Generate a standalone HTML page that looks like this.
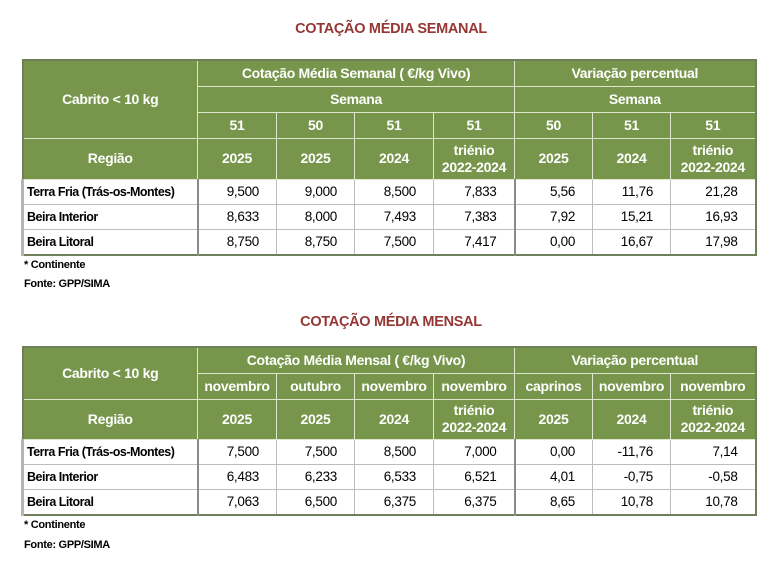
<!DOCTYPE html>
<html><head><meta charset="utf-8"><style>
body{margin:0;background:#fff;width:782px;height:571px;position:relative;font-family:"Liberation Sans",sans-serif;overflow:hidden}
.t{position:absolute;left:0;width:782px;text-align:center;color:#953735;font-weight:bold;font-size:14.5px;letter-spacing:-0.3px}
table{position:absolute;left:21px;border-collapse:collapse;table-layout:fixed;width:733px;border:2px solid #6e7f5a}
td{padding:0;font-size:13.5px;letter-spacing:-0.3px;color:#000;overflow:hidden;white-space:nowrap}
.h td{background:#77964b;color:#fff;font-weight:bold;text-align:center;border:1.5px solid #dfe8cf;font-size:14px;line-height:17px}
.d td{border:1px solid #bdbdbd;text-align:right;padding-right:17px;height:24px}
.d td:first-child{text-align:left;padding-left:3px;padding-right:0;font-weight:bold;font-size:12.5px;letter-spacing:-0.5px;border-left:3px solid #b5b5b5;border-right:2px solid #8a8a8a}
.d td.s{border-left:2px solid #8a8a8a}
.f{position:absolute;left:24px;font-size:11px;font-weight:bold;letter-spacing:-0.3px}
</style></head><body>
<div class="t" style="top:21px">COTAÇÃO MÉDIA SEMANAL</div>
<table style="top:59px">
<colgroup><col style="width:175px"><col style="width:79px"><col style="width:78px"><col style="width:79px"><col style="width:81px"><col style="width:78px"><col style="width:78px"><col style="width:85px"></colgroup>
<tr class="h" style="height:26px"><td rowspan="3">Cabrito &lt; 10 kg</td><td colspan="4">Cotação Média Semanal ( €/kg Vivo)</td><td colspan="3">Variação percentual</td></tr>
<tr class="h" style="height:26px"><td colspan="4">Semana</td><td colspan="3">Semana</td></tr>
<tr class="h" style="height:26px"><td>51</td><td>50</td><td>51</td><td>51</td><td>50</td><td>51</td><td>51</td></tr>
<tr class="h" style="height:41px"><td>Região</td><td>2025</td><td>2025</td><td>2024</td><td>triénio<br>2022-2024</td><td>2025</td><td>2024</td><td>triénio<br>2022-2024</td></tr>
<tr class="d"><td>Terra Fria (Trás-os-Montes)</td><td>9,500</td><td>9,000</td><td>8,500</td><td>7,833</td><td class="s">5,56</td><td>11,76</td><td>21,28</td></tr>
<tr class="d"><td>Beira Interior</td><td>8,633</td><td>8,000</td><td>7,493</td><td>7,383</td><td class="s">7,92</td><td>15,21</td><td>16,93</td></tr>
<tr class="d"><td>Beira Litoral</td><td>8,750</td><td>8,750</td><td>7,500</td><td>7,417</td><td class="s">0,00</td><td>16,67</td><td>17,98</td></tr>
</table>
<div class="f" style="top:259px">* Continente</div>
<div class="f" style="top:278px">Fonte: GPP/SIMA</div>

<div class="t" style="top:314px">COTAÇÃO MÉDIA MENSAL</div>
<table style="top:346px">
<colgroup><col style="width:175px"><col style="width:79px"><col style="width:78px"><col style="width:79px"><col style="width:81px"><col style="width:78px"><col style="width:78px"><col style="width:85px"></colgroup>
<tr class="h" style="height:26px"><td rowspan="2">Cabrito &lt; 10 kg</td><td colspan="4">Cotação Média Mensal ( €/kg Vivo)</td><td colspan="3">Variação percentual</td></tr>
<tr class="h" style="height:26px"><td>novembro</td><td>outubro</td><td>novembro</td><td>novembro</td><td>caprinos</td><td>novembro</td><td>novembro</td></tr>
<tr class="h" style="height:40px"><td>Região</td><td>2025</td><td>2025</td><td>2024</td><td>triénio<br>2022-2024</td><td>2025</td><td>2024</td><td>triénio<br>2022-2024</td></tr>
<tr class="d"><td>Terra Fria (Trás-os-Montes)</td><td>7,500</td><td>7,500</td><td>8,500</td><td>7,000</td><td class="s">0,00</td><td>-11,76</td><td>7,14</td></tr>
<tr class="d"><td>Beira Interior</td><td>6,483</td><td>6,233</td><td>6,533</td><td>6,521</td><td class="s">4,01</td><td>-0,75</td><td>-0,58</td></tr>
<tr class="d"><td>Beira Litoral</td><td>7,063</td><td>6,500</td><td>6,375</td><td>6,375</td><td class="s">8,65</td><td>10,78</td><td>10,78</td></tr>
</table>
<div class="f" style="top:519px">* Continente</div>
<div class="f" style="top:539px">Fonte: GPP/SIMA</div>
</body></html>
